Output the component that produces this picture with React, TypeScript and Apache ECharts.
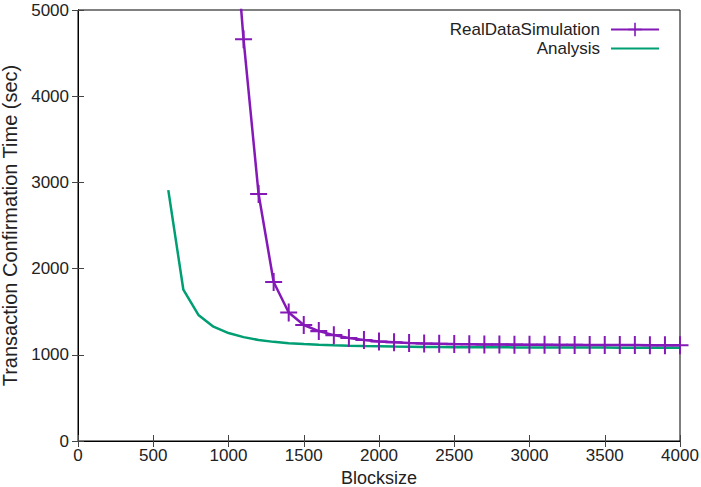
import React, { useEffect, useRef } from "react";
import * as echarts from "echarts";

const simX = [1000, 1100, 1200, 1300, 1400, 1500, 1600, 1700, 1800, 1900, 2000, 2100, 2200, 2300, 2400, 2500, 2600, 2700, 2800, 2900, 3000, 3100, 3200, 3300, 3400, 3500, 3600, 3700, 3800, 3900, 4000];
const simY = [6860, 4660, 2865, 1845, 1490, 1346, 1275, 1228, 1195, 1172, 1155, 1145, 1137, 1131, 1127, 1124, 1122, 1120, 1119, 1118, 1117, 1116, 1115, 1115, 1114, 1114, 1113, 1113, 1112, 1112, 1111];

const anaX = [600, 700, 800, 900, 1000, 1100, 1200, 1300, 1400, 1500, 1600, 1700, 1800, 1900, 2000, 2100, 2200, 2300, 2400, 2500, 2600, 2700, 2800, 2900, 3000, 3100, 3200, 3300, 3400, 3500, 3600, 3700, 3800, 3900, 4000];
const anaY = [2910, 1755, 1462, 1326, 1252, 1205, 1172, 1150, 1135, 1124, 1116, 1110, 1105, 1101, 1098, 1095, 1093, 1091, 1090, 1089, 1088, 1087, 1087, 1086, 1086, 1085, 1085, 1084, 1084, 1084, 1083, 1083, 1083, 1082, 1082];

const PURPLE = "#8419b8";
const GREEN = "#009e73";
const FONT = "Liberation Sans, Arial, sans-serif";
const PLUS = "path://M7.5,0 L9.5,0 L9.5,7.5 L17,7.5 L17,9.5 L9.5,9.5 L9.5,17 L7.5,17 L7.5,9.5 L0,9.5 L0,7.5 L7.5,7.5 Z";

export default function App() {
  const ref = useRef<HTMLDivElement>(null);
  useEffect(() => {
    const chart = echarts.init(ref.current!, null, { renderer: "svg" });
    const tickStyle = { show: true, inside: true, length: 6, lineStyle: { color: "#444", width: 1 } };
    const fmt = (v: number) => String(v);
    chart.setOption({
      animation: false,
      textStyle: { fontFamily: FONT },
      grid: {
        left: 78, right: 21, top: 10, bottom: 46,
        outerBoundsMode: "none",
        containLabel: false,
        show: true, borderColor: "#000", borderWidth: 1, backgroundColor: "transparent",
      },
      legend: {
        orient: "vertical",
        right: 36,
        top: 16,
        align: "right",
        itemWidth: 48,
        itemHeight: 17,
        itemGap: 2,
        textStyle: { fontSize: 17, color: "#222", fontFamily: FONT, padding: [0, 6, 0, 0] },
        data: [
          { name: "RealDataSimulation" },
          { name: "Analysis", itemStyle: { opacity: 0 } },
        ],
      },
      xAxis: [
        {
          type: "value",
          min: 0,
          max: 4000,
          interval: 500,
          name: "Blocksize",
          nameLocation: "middle",
          nameGap: 21,
          nameTextStyle: { fontSize: 18, color: "#222", fontFamily: FONT, lineHeight: 18 },
          axisLine: { show: true, lineStyle: { color: "#000" } },
          axisTick: tickStyle,
          axisLabel: { fontSize: 17, color: "#222", margin: 6, fontFamily: FONT, formatter: fmt },
          splitLine: { show: false },
        },
        {
          type: "value",
          position: "top",
          min: 0,
          max: 4000,
          interval: 500,
          axisLine: { show: true, lineStyle: { color: "#000" } },
          axisTick: tickStyle,
          axisLabel: { show: false },
          splitLine: { show: false },
        },
      ],
      yAxis: [
        {
          type: "value",
          min: 0,
          max: 5000,
          interval: 1000,
          name: "Transaction Confirmation Time (sec)",
          nameLocation: "middle",
          nameGap: 51,
          nameTextStyle: { fontSize: 20, color: "#222", fontFamily: FONT },
          axisLine: { show: true, lineStyle: { color: "#000" } },
          axisTick: tickStyle,
          axisLabel: { fontSize: 17, color: "#222", margin: 9, fontFamily: FONT, formatter: fmt },
          splitLine: { show: false },
        },
        {
          type: "value",
          position: "right",
          min: 0,
          max: 5000,
          interval: 1000,
          axisLine: { show: true, lineStyle: { color: "#000" } },
          axisTick: tickStyle,
          axisLabel: { show: false },
          splitLine: { show: false },
        },
      ],
      series: [
        {
          name: "RealDataSimulation",
          type: "line",
          clip: true,
          data: simX.map((x, i) => [x, simY[i]]),
          symbol: PLUS,
          symbolSize: [17, 18],
          showAllSymbol: true,
          lineStyle: { color: PURPLE, width: 2.5 },
          itemStyle: { color: PURPLE },
          z: 3,
        },
        {
          name: "Analysis",
          type: "line",
          clip: true,
          data: anaX.map((x, i) => [x, anaY[i]]),
          symbol: "none",
          lineStyle: { color: GREEN, width: 2.5 },
          itemStyle: { color: GREEN },
          z: 2,
        },
      ],
    });
    return () => chart.dispose();
  }, []);
  return <div ref={ref} style={{ width: 701, height: 487, position: "absolute", left: 0, top: 0 }} />;
}
